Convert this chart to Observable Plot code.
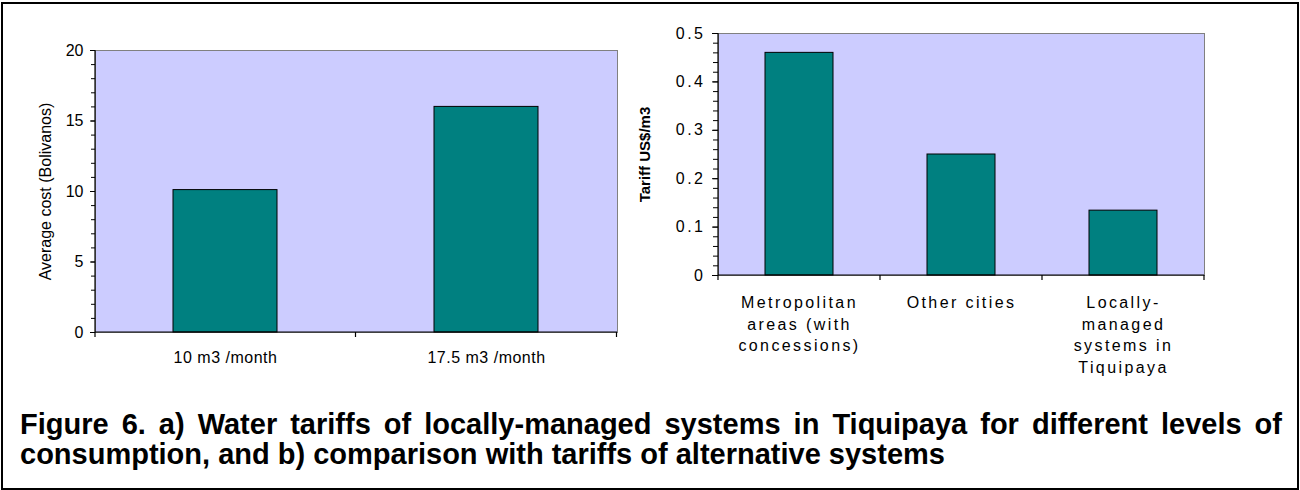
<!DOCTYPE html>
<html>
<head>
<meta charset="utf-8">
<script src="https://cdn.jsdelivr.net/npm/d3@7"></script>
<script src="https://cdn.jsdelivr.net/npm/@observablehq/plot@0.6"></script>
<style>
  html, body { margin: 0; padding: 0; background: #fff; }
  #page { position: relative; width: 1300px; height: 490px; overflow: hidden; font-family: "Liberation Sans", Arial, sans-serif; }
  #border { position: absolute; left: 1px; top: 2px; width: 1294px; height: 484px; border: 2px solid #000; }
  #left, #right { position: absolute; top: 0; }
  #left { left: 0; }
  #right { left: 630px; }
  .cap { position: absolute; left: 20px; width: 1262px; font-weight: bold; font-size: 29px; line-height: 30px; white-space: nowrap; }
  #cap1 { top: 409px; text-align: justify; text-align-last: justify; }
  #cap2 { top: 439px; text-align: left; }
</style>
</head>
<body>
<div id="page">
  <div id="left"></div>
  <div id="right"></div>
  <div id="border"></div>
  <div class="cap" id="cap1">Figure 6. a) Water tariffs of locally-managed systems in Tiquipaya for different levels of</div>
  <div class="cap" id="cap2">consumption, and b) comparison with tariffs of alternative systems</div>
</div>
<script>
// ---- Data: chart a) ----
const costCategories = ["10 m3 /month", "17.5 m3 /month"];
const costValues = [10.1, 16.0];
const costTicks = [0, 5, 10, 15, 20];
const costTickLabels = ["0", "5", "10", "15", "20"];
const costYLabel = "Average cost (Bolivanos)";

// ---- Data: chart b) ----
const tariffCategories = ["Metropolitan areas (with concessions)", "Other cities", "Locally-managed systems in Tiquipaya"];
const tariffTickLabels = ["Metropolitan\nareas (with\nconcessions)", "Other cities", "Locally-\nmanaged\nsystems in\nTiquipaya"];
const tariffValues = [0.46, 0.25, 0.134];
const tariffTicks = [0, 0.1, 0.2, 0.3, 0.4, 0.5];
const tariffTickText = ["0", "0.1", "0.2", "0.3", "0.4", "0.5"];
const tariffYLabel = "Tariff US$/m3";

const FONT = "Liberation Sans, Arial, sans-serif";
const PLOT_BG = "#CCCCFF";
const BAR = "#008080";

function excelAxes() {
  return (index, scales, values, dims) => {
    const ns = "http://www.w3.org/2000/svg";
    const g = document.createElementNS(ns, "g");
    const x = scales.x;
    const x0 = dims.marginLeft, x1 = dims.width - dims.marginRight;
    const y0 = dims.height - dims.marginBottom, yt = dims.marginTop;
    const line = (a, b, c, d) => {
      const l = document.createElementNS(ns, "line");
      l.setAttribute("x1", a); l.setAttribute("y1", b);
      l.setAttribute("x2", c); l.setAttribute("y2", d);
      l.setAttribute("stroke", "#000");
      l.setAttribute("stroke-width", 1.2);
      g.appendChild(l);
    };
    line(x0, yt, x0, y0 + 5);
    line(x0, y0, x1, y0);
    const dom = x.domain();
    const step = x.step ? x.step() : (x1 - x0) / dom.length;
    const bw = x.bandwidth ? x.bandwidth() : 0;
    dom.forEach(c => { const b = x(c) + bw / 2 + step / 2; line(b, y0, b, y0 + 5); });
    return g;
  };
}

function chart({cats, vals, ticks, tickText, minor, tickLabels, ylabel, domain, size, margins, pad, opts}) {
  const data = cats.map((c, i) => ({cat: c, value: vals[i], label: tickLabels[i]}));
  const fmt = new Map(ticks.map((t, i) => [t, tickText[i]]));
  const svg = Plot.plot({
    ...size,
    ...margins,
    style: {fontFamily: FONT, background: "transparent", color: "#000"},
    x: {domain: cats, paddingInner: pad, paddingOuter: pad / 2, axis: null},
    y: {domain, axis: null},
    marks: [
      Plot.frame({fill: PLOT_BG, stroke: "#808080"}),
      Plot.barY(data, {x: "cat", y: "value", fill: BAR, stroke: "#000", strokeWidth: 1}),
      Plot.axisY(minor, {tickSize: opts.minorSize, tickFormat: () => "", label: null}),
      Plot.axisY(ticks, {tickSize: opts.tickSize, tickPadding: opts.tickPadding, tickFormat: d => fmt.get(d), fontSize: opts.tickFont, label: null}),
      excelAxes(),
      Plot.text(data, {x: "cat", text: "label", frameAnchor: "bottom", lineAnchor: "top", dy: opts.catDy, fontSize: opts.catFont, lineHeight: opts.lineHeight}),
      Plot.text([ylabel], {text: d => d, frameAnchor: "left", textAnchor: "middle", rotate: -90, dx: opts.labelDx, fontSize: opts.labelFont, fontWeight: opts.labelWeight})
    ]
  });
  // letter spacing to mimic the wide Excel text rendering
  const catSet = new Set(tickLabels.map(s => s.replace(/\n/g, "")));
  const tickSet = new Set(tickText);
  svg.querySelectorAll("text").forEach(t => {
    const s = t.textContent;
    if (catSet.has(s)) t.style.letterSpacing = opts.catSpacing;
    else if (tickSet.has(s)) t.style.letterSpacing = opts.tickSpacing;
  });
  return svg;
}

document.getElementById("left").append(chart({
  cats: costCategories, vals: costValues, ticks: costTicks, tickText: costTickLabels,
  minor: d3.range(0, 20.5, 1), tickLabels: costCategories, ylabel: costYLabel,
  domain: [0, 20],
  size: {width: 630, height: 380},
  margins: {marginLeft: 95, marginRight: 13, marginTop: 50, marginBottom: 48},
  pad: 0.6,
  opts: {minorSize: 4, tickSize: 5, tickPadding: 7, tickFont: 16, catDy: 16, catFont: 16, lineHeight: 1.3, labelDx: -50, labelFont: 16, labelWeight: "normal", catSpacing: "0.5px", tickSpacing: "0px"}
}));

document.getElementById("right").append(chart({
  cats: tariffCategories, vals: tariffValues, ticks: tariffTicks, tickText: tariffTickText,
  minor: d3.range(0, 0.51, 0.02), tickLabels: tariffTickLabels, ylabel: tariffYLabel,
  domain: [0, 0.5],
  size: {width: 670, height: 380},
  margins: {marginLeft: 88, marginRight: 96, marginTop: 33, marginBottom: 105},
  pad: 0.58,
  opts: {minorSize: 5, tickSize: 6, tickPadding: 7, tickFont: 16, catDy: 17, catFont: 16, lineHeight: 1.36, labelDx: -73, labelFont: 15, labelWeight: "bold", catSpacing: "2.4px", tickSpacing: "2.5px"}
}));
</script>
</body>
</html>
